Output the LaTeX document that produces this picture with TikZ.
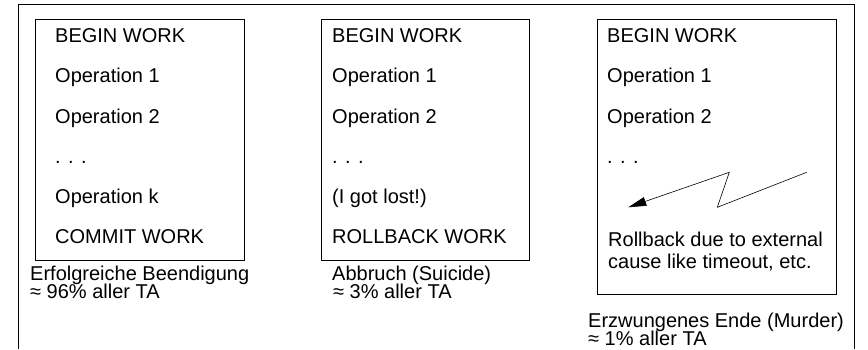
\documentclass[tikz,border=0pt]{standalone}
\usepackage{fontspec}
\setmainfont{Liberation Sans}
\usetikzlibrary{arrows.meta}
\begin{document}
\begin{tikzpicture}[x=1pt,y=-1pt,
  frameline/.style={line width=0.9pt},
  tabox/.style={draw,line width=0.9pt,inner sep=0pt,outer sep=0pt},
  stmt/.style={anchor=base west,inner sep=0pt,font=\fontsize{20}{24}\selectfont},
  caption/.style={anchor=base west,inner sep=0pt,font=\fontsize{20}{24}\selectfont},
  bolt/.style={line width=0.6pt,-{Triangle[length=18pt,width=9pt]}}]
\useasboundingbox (0,0) rectangle (868,349);

% open outer frame
\coordinate (fbl) at (18.5,349);
\coordinate (ftl) at (18.5,4.5);
\coordinate (ftr) at (854,4.5);
\coordinate (fbr) at (854,349);
\draw[frameline] (fbl) -- (ftl) -- (ftr) -- (fbr);

% the three transaction boxes
\node[tabox,minimum width=209pt,minimum height=240.5pt,anchor=north west] (commit) at (35,19.5) {};
\node[tabox,minimum width=208pt,minimum height=240.5pt,anchor=north west] (suicide) at (321,19.5) {};
\node[tabox,minimum width=238.5pt,minimum height=274.5pt,anchor=north west] (murder) at (597.5,19.5) {};

% successful end
\node[stmt] (c1) at (55,42.5) {BEGIN WORK};
\node[stmt] (c2) at (55,82.8) {Operation 1};
\node[stmt] (c3) at (55,123) {Operation 2};
\node[stmt] (c4) at (55,163.3) {. . .};
\node[stmt] (c5) at (55,203.5) {Operation k};
\node[stmt] (c6) at (55,243.8) {COMMIT WORK};
\node[caption] (cc1) at (30,280.5) {Erfolgreiche Beendigung};
\node[caption] (cc2) at (30,298) {≈ 96\% aller TA};

% abort
\node[stmt] (s1) at (332,42.5) {BEGIN WORK};
\node[stmt] (s2) at (332,82.8) {Operation 1};
\node[stmt] (s3) at (332,123) {Operation 2};
\node[stmt] (s4) at (332,163.3) {. . .};
\node[stmt] (s5) at (332,203.5) {(I got lost!)};
\node[stmt] (s6) at (332,243.8) {ROLLBACK WORK};
\node[caption] (sc1) at (332,280.5) {Abbruch (Suicide)};
\node[caption] (sc2) at (333,298) {≈ 3\% aller TA};

% forced end
\node[stmt] (m1) at (607,42.5) {BEGIN WORK};
\node[stmt] (m2) at (607,82.8) {Operation 1};
\node[stmt] (m3) at (607,123) {Operation 2};
\node[stmt] (m4) at (607,163.3) {. . .};
\node[stmt] (m5) at (608,246.5) {Rollback due to external};
\node[stmt] (m6) at (608,268.5) {cause like timeout, etc.};
\node[caption] (mc1) at (588,327.5) {Erzwungenes Ende (Murder)};
\node[caption] (mc2) at (588,345.5) {≈ 1\% aller TA};

% lightning arrow
\coordinate (b0) at (806.7,172.3);
\coordinate (b1) at (717.3,207.3);
\coordinate (b2) at (729.3,172.3);
\coordinate (b3) at (628.3,207.3);
\draw[bolt] (b0) -- (b1) -- (b2) -- (b3);
\end{tikzpicture}
\end{document}
